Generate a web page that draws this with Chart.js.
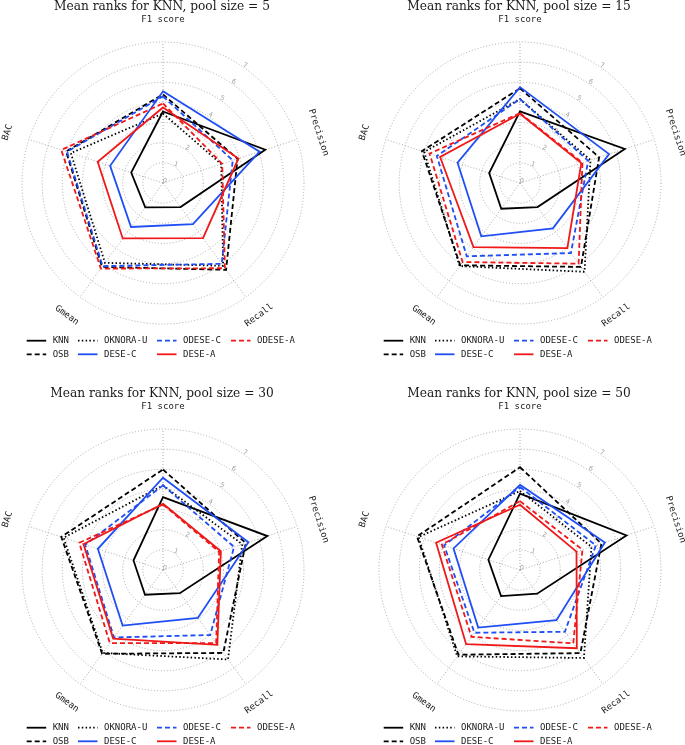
<!DOCTYPE html>
<html><head><meta charset="utf-8">
<script src="https://cdn.jsdelivr.net/npm/chart.js@4.4.1/dist/chart.umd.min.js"></script>
<style>
html,body{margin:0;padding:0;background:#fff;width:685px;height:745px;overflow:hidden;}
canvas{position:absolute;}
</style></head><body>
<canvas id="c5" width="342" height="372" style="left:0px;top:0px"></canvas>
<canvas id="c15" width="343" height="372" style="left:342px;top:0px"></canvas>
<canvas id="c30" width="342" height="373" style="left:0px;top:372px"></canvas>
<canvas id="c50" width="343" height="373" style="left:342px;top:372px"></canvas>
<script>
// ---- data ----
const axisLabels = ['F1 score', 'Precision', 'Recall', 'Gmean', 'BAC'];
const methods = ['KNN', 'OSB', 'OKNORA-U', 'DESE-C', 'ODESE-C', 'DESE-A', 'ODESE-A'];
const radialTicks = [0, 1, 2, 3, 4, 5, 6, 7];

// pool size = 5
const knn5     = [3.55, 5.34, 1.48, 1.50, 1.66];
const osb5     = [4.40, 3.89, 5.33, 5.15, 5.06];
const oknora5  = [3.45, 3.04, 5.08, 4.90, 4.81];
const desec5   = [4.55, 5.04, 2.53, 2.70, 2.76];
const odesec5  = [4.30, 3.64, 4.96, 5.10, 5.01];
const desea5   = [3.75, 3.94, 3.38, 3.40, 3.41];
const odesea5  = [3.95, 3.09, 5.23, 5.25, 5.31];

// pool size = 15
const knn15    = [3.56, 5.47, 1.48, 1.58, 1.61];
const osb15    = [4.70, 4.13, 5.15, 5.05, 5.12];
const oknora15 = [4.17, 3.68, 5.45, 5.10, 5.00];
const desec15  = [4.76, 4.65, 2.78, 3.27, 3.26];
const odesec15 = [4.17, 3.56, 4.30, 4.50, 4.34];
const desea15  = [3.44, 3.20, 4.00, 3.93, 4.17];
const odesea15 = [3.47, 3.26, 4.95, 4.85, 4.72];

// pool size = 30
const knn30    = [3.62, 5.45, 1.42, 1.52, 1.54];
const osb30    = [4.99, 4.32, 5.09, 5.14, 5.31];
const oknora30 = [4.20, 4.14, 5.49, 5.09, 5.19];
const desec30  = [4.58, 4.46, 2.94, 3.41, 3.40];
const odesec30 = [4.20, 3.71, 3.99, 4.14, 4.06];
const desea30  = [3.29, 3.02, 4.59, 4.21, 4.15];
const odesea30 = [3.25, 2.93, 4.49, 4.49, 4.37];

// pool size = 50
const knn50    = [3.79, 5.56, 1.45, 1.60, 1.65];
const osb50    = [5.10, 4.25, 5.10, 5.20, 5.38];
const oknora50 = [3.92, 3.73, 5.40, 5.30, 5.30];
const desec50  = [4.23, 4.43, 3.08, 3.53, 3.47];
const odesec50 = [4.12, 3.96, 3.79, 3.85, 3.96];
const desea50  = [3.24, 2.95, 4.80, 4.55, 4.38];
const odesea50 = [3.42, 3.26, 4.50, 4.10, 4.08];

// ---- styles ----
const BLUE = '#1f4ef5', RED = '#f01818', BLACK = '#000000';
const methodStyle = {
  'KNN':      {color: BLACK, dash: []},
  'OSB':      {color: BLACK, dash: [5, 3]},
  'OKNORA-U': {color: BLACK, dash: [1.5, 2.3]},
  'DESE-C':   {color: BLUE,  dash: []},
  'ODESE-C':  {color: BLUE,  dash: [5, 3]},
  'DESE-A':   {color: RED,   dash: []},
  'ODESE-A':  {color: RED,   dash: [5, 3]}
};

const decor = {
  id: 'decor',
  beforeDatasetsDraw(chart) {
    const ctx = chart.ctx, r = chart.scales.r;
    const cx = r.xCenter, cy = r.yCenter;
    const a = 35 * Math.PI / 180;
    ctx.save();
    ctx.fillStyle = '#a0a0a0';
    ctx.font = '6.5px "DejaVu Sans"';
    ctx.textAlign = 'center'; ctx.textBaseline = 'middle';
    radialTicks.forEach(v => {
      const d = r.getDistanceFromCenterForValue(v) + 2.5;
      const x = cx + Math.sin(a) * d, y = cy - Math.cos(a) * d;
      ctx.save(); ctx.translate(x, y); ctx.rotate(a * 0.6);
      ctx.fillText(String(v), 0, 0); ctx.restore();
    });
    ctx.restore();
  },
  afterDraw(chart, args, opts) {
    const ctx = chart.ctx, r = chart.scales.r;
    const cx = r.xCenter, cy = r.yCenter;
    ctx.save();
    // title
    ctx.fillStyle = '#1a1a1a';
    ctx.font = '12.2px "DejaVu Serif"';
    ctx.textAlign = 'center'; ctx.textBaseline = 'alphabetic';
    ctx.fillText(opts.title, cx - 1, cy - 173.5);
    // axis labels
    ctx.font = '9px "DejaVu Sans Mono"';
    ctx.textBaseline = 'middle';
    axisLabels.forEach((lab, i) => {
      const p = r.getPointPosition(i, r.drawingArea + 22.5);
      let rot = r.getIndexAngle(i);
      if (rot > Math.PI / 2 + 1e-6 && rot <= 3 * Math.PI / 2) rot -= Math.PI;
      else if (rot > 3 * Math.PI / 2) rot -= 2 * Math.PI;
      ctx.save(); ctx.translate(p.x, p.y); ctx.rotate(rot);
      ctx.fillText(lab, 0, 0); ctx.restore();
    });
    // legend (column-major, 4 columns)
    const colX = [-136.3, -85, -6, 68];
    const rowY = [157.7, 171.3];
    ctx.textAlign = 'left';
    chart.data.datasets.forEach((ds, i) => {
      const col = Math.floor(i / 2), row = i % 2;
      const x0 = cx + colX[col], y0 = cy + rowY[row];
      ctx.save();
      ctx.strokeStyle = ds.borderColor; ctx.lineWidth = ds.borderWidth;
      ctx.setLineDash(ds.borderDash);
      ctx.beginPath(); ctx.moveTo(x0, y0); ctx.lineTo(x0 + 19.5, y0); ctx.stroke();
      ctx.restore();
      ctx.fillStyle = '#1a1a1a';
      ctx.fillText(ds.label, x0 + 26, y0);
    });
    ctx.restore();
  }
};

function makeChart(id, title, series, pad) {
  const datasets = methods.map((m, i) => ({
    label: m,
    data: series[i],
    borderColor: methodStyle[m].color,
    borderDash: methodStyle[m].dash,
    borderWidth: 1.8,
    backgroundColor: 'transparent',
    fill: false,
    pointRadius: 0,
    pointHoverRadius: 0,
    tension: 0,
    order: methods.length - i
  }));
  new Chart(document.getElementById(id), {
    type: 'radar',
    data: {labels: axisLabels, datasets},
    options: {
      responsive: false, animation: false, devicePixelRatio: 1,
      layout: {padding: pad},
      plugins: {legend: {display: false}, tooltip: {enabled: false}, title: {display: false},
                decor: {title}},
      scales: {
        r: {
          min: 0, max: 7,
          ticks: {display: false, stepSize: 1},
          pointLabels: {display: false},
          grid: {circular: true, color: '#a8a8a8', lineWidth: 1},
          border: {dash: [1, 2]},
          angleLines: {color: '#a8a8a8', lineWidth: 1, borderDash: [1, 2]}
        }
      }
    },
    plugins: [decor]
  });
}

makeChart('c5', 'Mean ranks for KNN, pool size = 5',
  [knn5, osb5, oknora5, desec5, odesec5, desea5, odesea5], {left: 22, right: 37, top: 42, bottom: 47});
makeChart('c15', 'Mean ranks for KNN, pool size = 15',
  [knn15, osb15, oknora15, desec15, odesec15, desea15, odesea15], {left: 37, right: 23, top: 42, bottom: 47});
makeChart('c30', 'Mean ranks for KNN, pool size = 30',
  [knn30, osb30, oknora30, desec30, odesec30, desea30, odesea30], {left: 22, right: 37, top: 57, bottom: 33});
makeChart('c50', 'Mean ranks for KNN, pool size = 50',
  [knn50, osb50, oknora50, desec50, odesec50, desea50, odesea50], {left: 37, right: 23, top: 57, bottom: 33});
</script>
</body></html>
